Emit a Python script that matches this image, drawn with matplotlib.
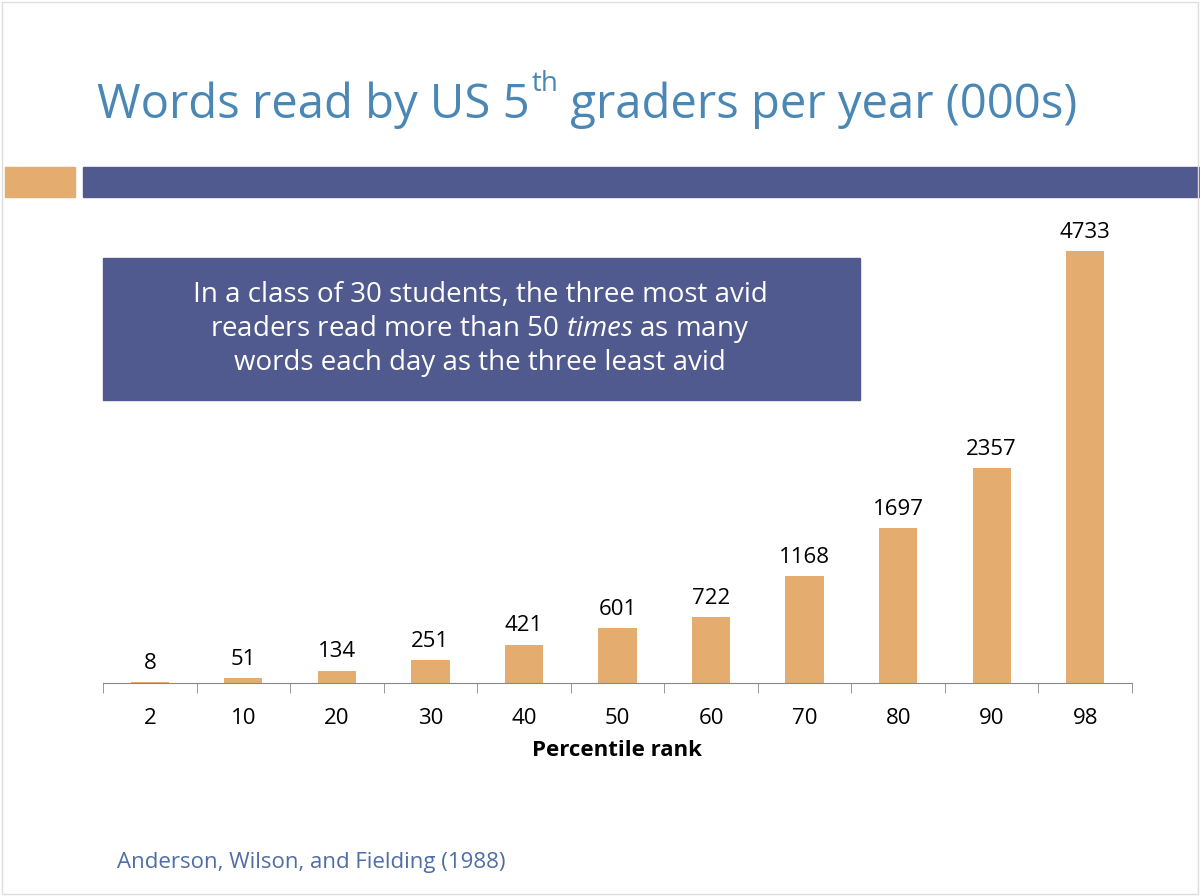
import matplotlib.pyplot as plt
from matplotlib.patches import Rectangle

percentiles = ['2', '10', '20', '30', '40', '50', '60', '70', '80', '90', '98']
words_000s = [8, 51, 134, 251, 421, 601, 722, 1168, 1697, 2357, 4733]

BAR = '#E4AD6F'
NAVY = '#515A8E'
TITLE = '#4A87B5'

plt.rcParams['font.family'] = ['Open Sans', 'DejaVu Sans']
plt.rcParams['mathtext.fontset'] = 'custom'
plt.rcParams['mathtext.it'] = 'Open Sans:italic'
plt.rcParams['mathtext.rm'] = 'Open Sans'

fig = plt.figure(figsize=(12, 8.96), dpi=100)

# slide decorations
fig.patches.append(Rectangle((5/1200, 1-197/896), 70/1200, 30/896,
                             transform=fig.transFigure, color=BAR, zorder=0))
fig.patches.append(Rectangle((83/1200, 1-197/896), 1117/1200, 30/896,
                             transform=fig.transFigure, color=NAVY, zorder=0))
fig.patches.append(Rectangle((0.002, 0.002), 0.996, 0.996, transform=fig.transFigure,
                             fill=False, edgecolor='#dddddd', lw=1))

ax = fig.add_axes([103/1200, 1-683/896, 1029/1200, 483/896])
x = range(len(percentiles))
ax.bar(x, words_000s, width=0.41, color=BAR)
for xi, v in zip(x, words_000s):
    ax.annotate(str(v), (xi, v), xytext=(0, 6), textcoords='offset points',
                ha='center', va='bottom', fontsize=16)
ax.set_xlim(-0.5, len(percentiles) - 0.5)
ax.set_ylim(0, 5292)
ax.set_xticks(list(x))
ax.set_xticklabels(percentiles, fontsize=16)
ax.set_xticks([i - 0.5 for i in range(len(percentiles) + 1)], minor=True)
ax.tick_params(axis='x', which='major', length=0, pad=18)
ax.tick_params(axis='x', which='minor', length=7, color='#888888')
ax.set_yticks([])
for s in ['top', 'right', 'left']:
    ax.spines[s].set_visible(False)
ax.spines['bottom'].set_color('#888888')
ax.set_xlabel('Percentile rank', fontsize=16, fontweight='bold', labelpad=8)

# title with superscript
t1 = fig.text(97/1200, 1-118/896, 'Words read by US 5', fontsize=34, color=TITLE)
sup = ax.annotate('th', xy=(1, 0), xycoords=t1, xytext=(1, 22), textcoords='offset points',
                  fontsize=20, color=TITLE, va='bottom', ha='left', annotation_clip=False)
ax.annotate(' graders per year (000s)', xy=(1, 0), xycoords=sup, xytext=(0, -22),
            textcoords='offset points', fontsize=34, color=TITLE, va='bottom', ha='left',
            annotation_clip=False)

# callout box
fig.patches.append(Rectangle((103/1200, 1-400/896), 757/1200, 142/896,
                             transform=fig.transFigure, color=NAVY, zorder=5))
fig.text(480/1200, 1-329/896,
         'In a class of 30 students, the three most avid\n'
         'readers read more than $\\mathit{50\\ times}$ as many\n'
         'words each day as the three least avid',
         ha='center', va='center', color='white', fontsize=20, linespacing=1.2,
         zorder=6)

fig.text(117/1200, 1-862/896, 'Anderson, Wilson, and Fielding (1988)',
         fontsize=16, color='#4F6DA6', va='center')

fig.savefig('out.png', dpi=100)
